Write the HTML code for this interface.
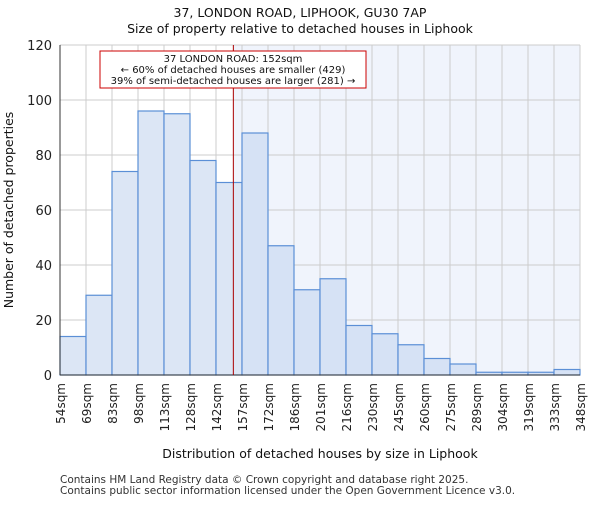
<!DOCTYPE html>
<html><head><meta charset="utf-8"><style>body{margin:0;background:#fff}svg{font-family:"DejaVu Sans","Liberation Sans",sans-serif}</style></head>
<body>
<svg id="c" width="600" height="500"></svg>
<script>
const categories=["54sqm","69sqm","83sqm","98sqm","113sqm","128sqm","142sqm","157sqm","172sqm","186sqm","201sqm","216sqm","230sqm","245sqm","260sqm","275sqm","289sqm","304sqm","319sqm","333sqm","348sqm"];
const counts=[14,29,74,96,95,78,70,88,47,31,35,18,15,11,6,4,1,1,1,2];
const yTicks=[0,20,40,60,80,100,120];
const propertyBin=6.667;
const NS="http://www.w3.org/2000/svg",svg=document.getElementById('c');
const L=60,R=580,T=45,B=375,yMax=120;
const n=counts.length,bw=(R-L)/n;
const x=i=>L+i*bw, y=v=>B-v/yMax*(B-T);
function el(t,a,p){const e=document.createElementNS(NS,t);for(const k in a)e.setAttribute(k,a[k]);(p||svg).appendChild(e);return e;}
function tx(s,a){const e=el('text',a);e.textContent=s;return e;}
const lx=x(propertyBin);
const bg=el('rect',{x:lx,y:T,width:R-lx,height:B-T,fill:'#f0f4fc'});

for(let i=0;i<=n;i++){const g=el('line',{x1:x(i),x2:x(i),y1:T,y2:B,stroke:'#cccccc','stroke-width':1});}
yTicks.forEach(v=>{const g=el('line',{x1:L,x2:R,y1:y(v),y2:y(v),stroke:'#cccccc','stroke-width':1});
const t=tx(v,{x:L-8,y:y(v)+5,'text-anchor':'end','font-size':13,fill:'#222'});});
counts.forEach((v,i)=>{const b=el('rect',{x:x(i),y:y(v),width:bw,height:B-y(v),fill:i>=Math.ceil(propertyBin)?'#d6e2f5':'#dce6f5',stroke:'#5b8fd6','stroke-width':1.2});
});
categories.forEach((c,i)=>{const t=tx(c,{transform:`translate(${x(i)+5},${B+8}) rotate(-90)`,'text-anchor':'end','font-size':12,fill:'#222'});});
const ax=el('line',{x1:L,x2:L,y1:T,y2:B,stroke:'#333'});
const ax2=el('line',{x1:L,x2:R,y1:B,y2:B,stroke:'#333'});
const pl=el('line',{x1:lx,x2:lx,y1:T,y2:B,stroke:'#aa0000','stroke-width':1});
const box=el('rect',{x:100,y:51,width:266,height:37,fill:'#fff',stroke:'#cc0000','stroke-width':1});
[["37 LONDON ROAD: 152sqm",62],["← 60% of detached houses are smaller (429)",73],["39% of semi-detached houses are larger (281) →",84]].forEach(a=>{const t=tx(a[0],{x:233,y:a[1],'text-anchor':'middle','font-size':10,fill:'#111'});});
let t=tx("37, LONDON ROAD, LIPHOOK, GU30 7AP",{x:300,y:17,'text-anchor':'middle','font-size':12.5,fill:'#111'});
t=tx("Size of property relative to detached houses in Liphook",{x:300,y:33,'text-anchor':'middle','font-size':12.5,fill:'#111'});
t=tx("Distribution of detached houses by size in Liphook",{x:320,y:458,'text-anchor':'middle','font-size':12.5,fill:'#111'});
t=tx("Number of detached properties",{transform:'translate(13,210) rotate(-90)','text-anchor':'middle','font-size':12.5,fill:'#111'});
t=tx("Contains HM Land Registry data © Crown copyright and database right 2025.",{x:60,y:483,'font-size':10.5,fill:'#333'});
t=tx("Contains public sector information licensed under the Open Government Licence v3.0.",{x:60,y:494,'font-size':10.5,fill:'#333'});
</script>
</body></html>
